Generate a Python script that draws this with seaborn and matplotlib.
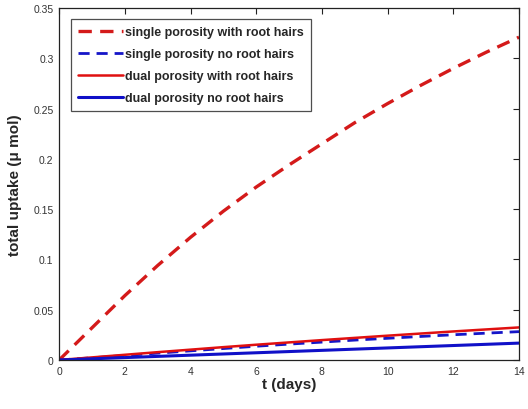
import matplotlib
matplotlib.use("Agg")
import matplotlib.pyplot as plt
import seaborn as sns
import pandas as pd

days = list(range(15))
single_with_hairs = [0, 0.032, 0.064, 0.094, 0.122, 0.148, 0.172, 0.194, 0.215,
                     0.236, 0.255, 0.273, 0.290, 0.306, 0.321]
single_no_hairs = [0, 0.0022, 0.0045, 0.0068, 0.0091, 0.0114, 0.0137, 0.0158, 0.0178,
                   0.0198, 0.0216, 0.0234, 0.0251, 0.0267, 0.0282]
dual_with_hairs = [0, 0.0026, 0.0052, 0.0078, 0.0103, 0.0128, 0.0152, 0.0175, 0.0198,
                   0.0220, 0.0242, 0.0263, 0.0284, 0.0304, 0.0324]
dual_no_hairs = [0, 0.0012, 0.0024, 0.0036, 0.0048, 0.0060, 0.0072, 0.0084, 0.0096,
                 0.0108, 0.0120, 0.0132, 0.0144, 0.0156, 0.0168]

sns.set_style("white")
plt.rcParams["font.family"] = ["Liberation Sans", "DejaVu Sans"]

fig = plt.figure(figsize=(5.28, 4.10), dpi=100)
ax = fig.add_axes([0.112, 0.1195, 0.871, 0.8585])

series = [
    ("single porosity with root hairs", single_with_hairs, "#d41a1a", (0, (4, 2.5)), 2.4),
    ("single porosity no root hairs", single_no_hairs, "#1515c8", (0, (4, 2.5)), 2.0),
    ("dual porosity with root hairs", dual_with_hairs, "#e01010", "-", 1.8),
    ("dual porosity no root hairs", dual_no_hairs, "#1010c8", "-", 2.2),
]
for name, vals, col, ls, lw in series:
    df = pd.DataFrame({"t": days, "uptake": vals})
    sns.lineplot(data=df, x="t", y="uptake", ax=ax, color=col, linestyle=ls,
                 linewidth=lw, label=name)

ax.set_xlim(0, 14)
ax.set_ylim(0, 0.35)
ax.set_xticks(range(0, 15, 2))
ax.set_yticks([0, 0.05, 0.1, 0.15, 0.2, 0.25, 0.3, 0.35])
ax.set_yticklabels(["0", "0.05", "0.1", "0.15", "0.2", "0.25", "0.3", "0.35"])
ax.tick_params(direction="in", length=4, width=0.8, top=True, right=True,
               labelsize=7.5, labelcolor="#333333", color="#222222", pad=4)
for s in ax.spines.values():
    s.set_color("#222222")
    s.set_linewidth(0.9)

ax.set_xlabel("t (days)", fontsize=11, fontweight="bold", labelpad=1)
ax.set_ylabel("total uptake (\u03bc mol)", fontsize=11, fontweight="bold", labelpad=8)

leg = ax.legend(loc="upper left", bbox_to_anchor=(0.02, 0.975), fancybox=False,
                frameon=True, edgecolor="#222222", handlelength=3.6,
                handletextpad=0.2, borderpad=0.55, labelspacing=0.8,
                borderaxespad=0.2, prop={"weight": "bold", "size": 9})
leg.get_frame().set_linewidth(0.9)

fig.savefig("out.png", dpi=100)
